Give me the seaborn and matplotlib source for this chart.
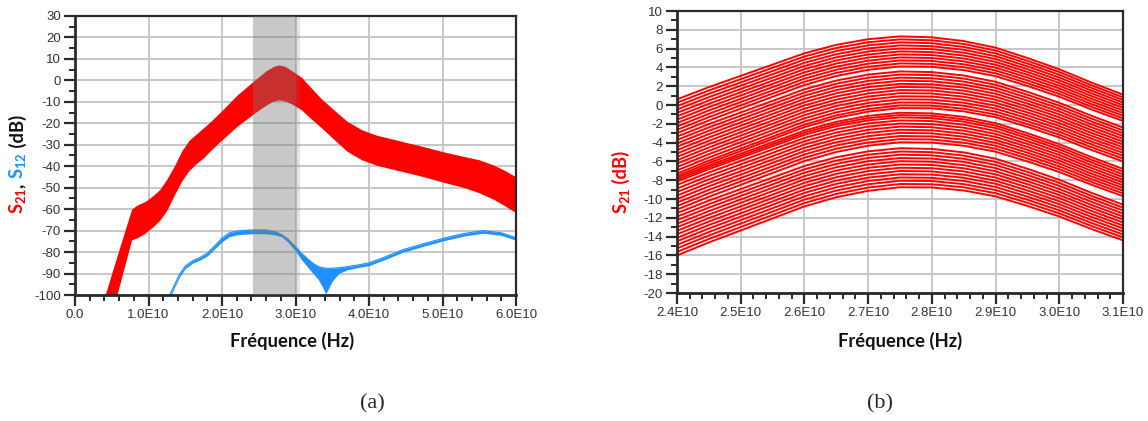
import numpy as np
import pandas as pd
import matplotlib
matplotlib.use("Agg")
import matplotlib.pyplot as plt
from matplotlib.ticker import MultipleLocator
import seaborn as sns

# ---------------- data ----------------
# Panel (a): S21 band envelope (frequency in units of 1e10 Hz)
s21_freq = [0.41, 0.57, 0.77, 0.85, 0.95, 1.05, 1.15, 1.25, 1.35, 1.45, 1.55, 1.65, 1.75, 1.85,
            2.0, 2.2, 2.44, 2.6, 2.7, 2.78, 2.86, 2.95, 3.08, 3.2, 3.35, 3.53, 3.7, 3.9, 4.1,
            4.36, 4.7, 5.04, 5.3, 5.5, 5.7, 5.85, 6.0]
s21_upper = [-100, -82, -60, -58, -56.5, -54, -51, -46, -40, -33, -28, -25, -22, -19,
             -14, -7, 0, 4.5, 6.5, 7.2, 6.5, 4.5, 1.5, -3, -8.5, -14, -19, -23, -25.5,
             -27.7, -30.5, -33.5, -35.5, -37, -39.5, -42, -45]
s21_lower = [-122, -100, -74.3, -73.3, -71.3, -68.5, -65.3, -60.5, -53.5, -47, -42, -38.8, -36, -32.5,
             -27.7, -21.5, -15.3, -11.5, -9.6, -9.1, -9.6, -11, -13.7, -17.5, -22, -27.7, -33, -37, -39.5,
             -41.7, -44.5, -47.7, -50, -52.4, -55.5, -58.5, -61.7]

# Panel (a): S12 band envelope
s12_freq = [1.29, 1.35, 1.42, 1.5, 1.6, 1.7, 1.8, 1.9, 2.0, 2.1, 2.2, 2.3, 2.44, 2.6, 2.72, 2.81,
            2.9, 3.0, 3.08, 3.16, 3.24, 3.31, 3.37, 3.41, 3.45, 3.5, 3.59, 3.7, 3.85, 4.0, 4.2,
            4.45, 4.75, 5.04, 5.3, 5.55, 5.8, 6.0]
s12_upper = [-100, -95.5, -90.5, -86.5, -84, -82.5, -80.5, -77, -73.5, -71, -70.2, -69.9, -69.6, -69.7,
             -70.5, -71.8, -74, -77.5, -80.5, -83, -85.3, -86.7, -87.3, -87.5, -87.6, -87.5, -87.3,
             -86.8, -86, -85, -82.5, -79, -76, -73.3, -71.3, -70, -71, -73.3]
s12_lower = [-101.2, -96.7, -91.7, -87.7, -85.2, -83.7, -81.8, -78.5, -75.2, -72.8, -72.0, -71.7, -71.4,
             -71.5, -72.0, -72.8, -75.5, -79.5, -83.5, -86.8, -90, -92.8, -96.5, -99.5, -97, -93.5,
             -90, -88.3, -87.2, -86.3, -83.7, -80.2, -77.2, -74.5, -72.5, -71.2, -72.2, -74.5]

# Shaded band (units of 1e10 Hz)
band_start, band_end, band_edge = 2.42, 3.00, 3.06

# Panel (b): template curve (top trace) and per-trace end values
b_freq = [2.40, 2.45, 2.50, 2.55, 2.60, 2.65, 2.70, 2.75, 2.80, 2.85, 2.90, 2.95, 3.00, 3.05, 3.10]
b_top = [0.6, 1.9, 3.1, 4.3, 5.5, 6.4, 7.0, 7.3, 7.2, 6.8, 6.1, 5.0, 3.8, 2.4, 1.1]
b_left = [0.6, 0.24, -0.12, -0.48, -0.84, -1.2, -1.56, -1.92, -2.28, -2.64, -3.0, -3.36, -3.72,
          -4.08, -4.44, -4.8, -5.16, -5.52, -5.88, -6.24, -6.6, -6.96,
          -7.3, -7.55, -7.75, -7.95, -8.15,
          -8.5, -8.88, -9.25, -9.63, -10.0, -10.38, -10.75, -11.13, -11.5, -11.88, -12.25, -12.63,
          -13.0, -13.38, -13.75, -14.13, -14.5, -14.88, -15.25, -15.63, -16.0]
b_right = [1.1, 0.82, 0.54, 0.26, -0.02, -0.3, -0.58, -0.86, -1.14, -1.42, -1.7,
           -2.4, -2.7, -3.0, -3.3, -3.6, -3.9, -4.2, -4.5, -4.8, -5.1, -5.4, -5.7, -6.0,
           -6.8, -7.09, -7.38, -7.67, -7.96, -8.25, -8.54, -8.83, -9.12, -9.41, -9.7,
           -10.6, -10.92, -11.23, -11.55, -11.87, -12.18, -12.5, -12.82, -13.13, -13.45, -13.77, -14.08, -14.4]

left_xticks = [0, 1, 2, 3, 4, 5, 6]
left_xlabels = ["0.0", "1.0E10", "2.0E10", "3.0E10", "4.0E10", "5.0E10", "6.0E10"]
right_xticks = [2.4, 2.5, 2.6, 2.7, 2.8, 2.9, 3.0, 3.1]
right_xlabels = ["2.4E10", "2.5E10", "2.6E10", "2.7E10", "2.8E10", "2.9E10", "3.0E10", "3.1E10"]

RED = "#ff0000"
BLUE = "#1e90ff"

# ---------------- style ----------------
sns.set_style("white")
plt.rcParams["font.family"] = ["Liberation Sans", "DejaVu Sans"]
plt.rcParams["axes.unicode_minus"] = False
plt.rcParams["mathtext.fontset"] = "custom"
plt.rcParams["mathtext.rm"] = "Lato"
plt.rcParams["mathtext.bf"] = "Lato:bold"

W, H = 1148, 421
fig = plt.figure(figsize=(W / 100, H / 100), dpi=100)
ax1 = fig.add_axes([75 / W, 1 - 295 / H, 441 / W, 279 / H])
ax2 = fig.add_axes([677 / W, 1 - 293 / H, 446 / W, 282 / H])

def style_axes(ax):
    ax.set_axisbelow(True)
    ax.grid(True, which="major", color="#c4c4c4", lw=1.3)
    for name, sp in ax.spines.items():
        sp.set_visible(True)
        sp.set_color("#2a2a2a")
        sp.set_linewidth(2.0 if name in ("left", "bottom") else 1.6)
    ax.tick_params(which="both", bottom=True, left=True, top=False, right=False)
    ax.tick_params(which="major", direction="out", length=8, width=1.6, color="#2a2a2a",
                   labelsize=9.5, labelcolor="#333333", pad=2)
    ax.tick_params(which="minor", direction="out", length=4.5, width=1.4, color="#2a2a2a")

# ---------------- panel (a) ----------------
ax1.fill_between(np.array(s21_freq) * 1e10, s21_lower, s21_upper, color=RED, lw=0, zorder=2)
ax1.fill_between(np.array(s12_freq) * 1e10, s12_lower, s12_upper, color=BLUE, lw=0, zorder=2)
df12 = pd.DataFrame({"f": np.array(s12_freq) * 1e10, "v": s12_upper})
sns.lineplot(data=df12, x="f", y="v", ax=ax1, color=BLUE, lw=0.8, zorder=2)
ax1.axvspan(band_start * 1e10, band_end * 1e10, color="#777777", alpha=0.4, lw=0, zorder=3)
ax1.axvspan(band_end * 1e10, band_edge * 1e10, color="#777777", alpha=0.2, lw=0, zorder=3)
ax1.set_xlim(0, 6e10)
ax1.set_ylim(-100, 30)
ax1.set_xticks([t * 1e10 for t in left_xticks], left_xlabels)
ax1.set_yticks(range(-100, 31, 10))
ax1.xaxis.set_minor_locator(MultipleLocator(0.2e10))
ax1.yaxis.set_minor_locator(MultipleLocator(5))
ax1.set_xlabel("")
ax1.set_ylabel("")
style_axes(ax1)

# ---------------- panel (b) ----------------
bf = np.array(b_freq)
top = np.array(b_top)
w = (bf - bf[0]) / (bf[-1] - bf[0])
rows = []
for i, (l, r) in enumerate(zip(b_left, b_right)):
    vals = top + (l - b_top[0]) * (1 - w) + (r - b_top[-1]) * w
    for f, v in zip(bf, vals):
        rows.append({"f": f * 1e10, "v": v, "line": i})
dfb = pd.DataFrame(rows)
sns.lineplot(data=dfb, x="f", y="v", units="line", estimator=None, color=RED, lw=1.4, ax=ax2)
ax2.set_xlim(2.4e10, 3.1e10)
ax2.set_ylim(-20, 10)
ax2.set_xticks([t * 1e10 for t in right_xticks], right_xlabels)
ax2.set_yticks(range(-20, 11, 2))
ax2.xaxis.set_minor_locator(MultipleLocator(0.02e10))
ax2.yaxis.set_minor_locator(MultipleLocator(1))
ax2.set_xlabel("")
ax2.set_ylabel("")
style_axes(ax2)

# ---------------- labels ----------------
lab_kw = dict(fontsize=13.2, fontweight="bold", family=["Lato", "DejaVu Sans"])
fig.text(292 / W, 1 - 341 / H, "Fréquence (Hz)", ha="center", va="center", color="#111111", **lab_kw)
fig.text(900 / W, 1 - 341 / H, "Fréquence (Hz)", ha="center", va="center", color="#111111", **lab_kw)

def stacked_ylabel(x_px, y_bottom_px, pieces):
    fig.canvas.draw()
    renderer = fig.canvas.get_renderer()
    y = H - y_bottom_px
    for txt, col in pieces:
        t = fig.text(x_px / W, y / H, txt, rotation=90, ha="center", va="bottom", color=col, **lab_kw)
        bb = t.get_window_extent(renderer=renderer)
        y += bb.height

stacked_ylabel(18, 214, [(r"S$_\mathbf{21}$", RED), (",", "#111111"), (" ", "#111111"),
                         (r"S$_\mathbf{12}$", BLUE), (" (dB)", "#111111")])
stacked_ylabel(621, 214, [(r"S$_\mathbf{21}$", RED), (" (dB)", RED)])

cap_kw = dict(fontsize=16, family=["Liberation Serif", "DejaVu Serif"], ha="center", va="center")
fig.text(372 / W, 1 - 404 / H, "(a)", **cap_kw)
fig.text(880 / W, 1 - 404 / H, "(b)", **cap_kw)

fig.savefig("out.png", dpi=100)
